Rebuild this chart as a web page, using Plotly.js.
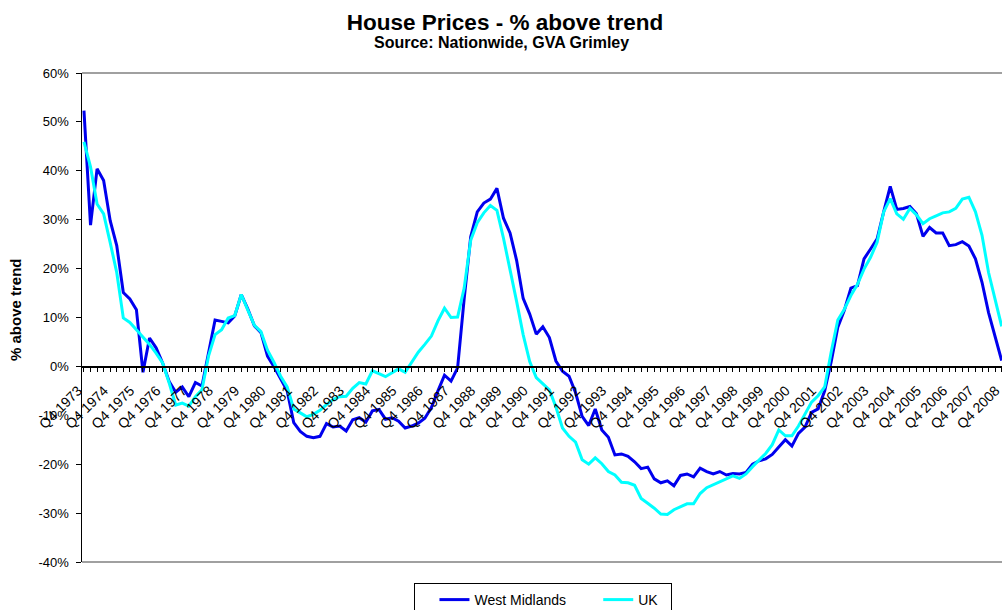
<!DOCTYPE html>
<html>
<head>
<meta charset="utf-8">
<script src="https://cdn.plot.ly/plotly-3.0.1.min.js"></script>
<style>
  body { margin: 0; background: #fff; }
  #chart { width: 1002px; height: 610px; }
</style>
</head>
<body>
<div id="chart"></div>
<script>
// quarterly series, Q4 1973 .. Q4 2008
const firstYear = 1973;
const lastYear = 2008;

const westMidlands = [
  52.3, 28.9, 40.4, 38.0, 29.8, 24.7, 15.1, 13.8, 11.6, -1.2,
  5.8, 3.8, 0.7, -3.1, -5.3, -4.2, -6.2, -3.3, -4.0, 2.7,
  9.5, 9.2, 8.9, 10.3, 14.7, 11.7, 8.3, 6.9, 2.1, -0.1,
  -2.7, -5.0, -11.5, -13.3, -14.3, -14.6, -14.3, -11.7, -12.4, -12.2,
  -13.2, -10.9, -10.5, -11.4, -9.1, -8.8, -10.8, -10.5, -11.2, -12.6,
  -12.2, -11.6, -10.6, -8.4, -5.0, -1.8, -3.0, -0.3, 13.8, 26.5,
  31.6, 33.4, 34.2, 36.4, 30.3, 27.3, 21.7, 13.9, 10.7, 6.6,
  8.1, 5.9, 1.1, -1.0, -2.0, -5.4, -10.2, -12.1, -8.7, -13.0,
  -14.5, -18.1, -17.9, -18.4, -19.5, -20.9, -20.6, -23.0, -23.8, -23.4,
  -24.4, -22.3, -22.0, -22.6, -20.8, -21.5, -22.0, -21.5, -22.2, -21.9,
  -22.0, -21.7, -20.0, -19.3, -18.9, -18.0, -16.5, -15.0, -16.3, -13.7,
  -12.4, -9.4, -8.7, -5.0, 1.0, 8.0, 11.5, 16.0, 16.5, 22.0,
  24.0, 26.1, 31.6, 36.8, 32.1, 32.3, 32.7, 31.2, 26.6, 28.4,
  27.3, 27.3, 24.7, 24.9, 25.5, 24.6, 22.0, 17.2, 11.0, 6.0,
  1.2
];

const uk = [
  45.9, 40.8, 33.2, 31.2, 25.3, 19.2, 9.9, 9.0, 7.5, 6.0,
  4.5, 2.7, 0.7, -3.4, -7.9, -7.5, -8.1, -6.2, -4.8, 2.1,
  6.5, 7.5, 9.9, 10.4, 14.7, 11.5, 8.4, 7.1, 3.3, 0.8,
  -2.0, -4.2, -8.7, -9.5, -10.3, -9.8, -9.0, -7.8, -6.8, -6.2,
  -6.1, -4.5, -3.3, -3.6, -0.9, -1.5, -2.1, -1.3, -0.5, -1.2,
  0.8, 2.9, 4.5, 6.2, 9.3, 11.9, 10.0, 10.1, 16.0, 25.8,
  29.4, 31.4, 32.9, 31.9, 26.2, 20.0, 13.3, 6.5, 1.0, -2.3,
  -3.5, -4.8, -8.3, -12.6, -14.3, -15.5, -19.1, -20.0, -18.7, -19.9,
  -21.5, -22.2, -23.7, -23.8, -24.3, -27.0, -28.0, -29.0, -30.2, -30.3,
  -29.3, -28.7, -28.1, -28.1, -26.0, -24.8, -24.2, -23.6, -22.9, -22.4,
  -22.9, -22.0, -20.5, -19.1, -17.8, -16.0, -13.0, -14.2, -14.2, -12.2,
  -9.7, -7.3, -6.0, -4.2, 3.0, 9.5, 11.7, 14.5, 16.8, 19.9,
  22.3, 25.4, 31.6, 34.3, 31.2, 30.1, 32.3, 31.0, 29.2, 30.2,
  30.8, 31.4, 31.6, 32.3, 34.2, 34.6, 31.6, 26.8, 19.2, 13.5,
  8.2
];

const yTickVals = [-40, -30, -20, -10, 0, 10, 20, 30, 40, 50, 60];
const yTickText = ["-40%", "-30%", "-20%", "-10%", "0%", "10%", "20%", "30%", "40%", "50%", "60%"];

// category labels: every quarter gets a tick, only Q4s are labelled
let quarters = ["Q4 " + firstYear];
for (let y = firstYear + 1; y <= lastYear; y++) {
  for (let q = 1; q <= 4; q++) quarters.push("Q" + q + " " + y);
}
const idx = quarters.map((q, i) => i);
const tickText = quarters.map(q => q.startsWith("Q4") ? q : "");

const font = "Liberation Sans, Arial, sans-serif";
const nb = n => "\u00a0".repeat(n); // spacing inside the legend box

const data = [
  {
    x: idx, y: westMidlands, name: "West Midlands" + nb(7), type: "scatter", mode: "lines",
    line: { color: "#0000ee", width: 3 }
  },
  {
    x: idx, y: uk, name: "UK" + nb(2), type: "scatter", mode: "lines",
    line: { color: "#00ffff", width: 3 }
  }
];

const layout = {
  width: 1002,
  height: 610,
  margin: { l: 82, r: 0, t: 73, b: 48, autoexpand: false },
  paper_bgcolor: "#ffffff",
  plot_bgcolor: "#ffffff",
  font: { family: font, size: 13, color: "#000" },
  title: {
    text: "<b>House Prices - % above trend</b>",
    font: { family: font, size: 22.5, color: "#000" },
    x: 0.504, xanchor: "center",
    y: 0.964, yanchor: "middle", yref: "container"
  },
  annotations: [
    {
      text: "<b>Source: Nationwide, GVA Grimley</b>",
      xref: "paper", yref: "paper", x: (501 - 82) / 920, y: (562 - 42) / 489,
      xanchor: "center", yanchor: "middle", showarrow: false,
      font: { family: font, size: 16, color: "#000" }
    },
    {
      text: "<b>% above trend</b>",
      xref: "paper", yref: "paper", x: (15 - 82) / 920, y: (562 - 310) / 489,
      xanchor: "center", yanchor: "middle", textangle: -90, showarrow: false,
      font: { family: font, size: 15, color: "#000" }
    }
  ],
  xaxis: {
    range: [-0.3, 140.05],
    tickmode: "array",
    tickvals: idx,
    ticktext: tickText,
    tickangle: -45,
    ticks: "outside",
    ticklen: 4,
    tickcolor: "#000",
    tickfont: { family: font, size: 14, color: "#000" },
    ticklabelstandoff: 5,
    ticklabelshift: -6,
    ticklabeloverflow: "allow",
    showgrid: false,
    zeroline: false,
    showline: true,
    linecolor: "#000",
    linewidth: 1.5,
    anchor: "free",
    position: 0.4,
    automargin: false,
    fixedrange: true
  },
  yaxis: {
    range: [-40, 60],
    tickmode: "array",
    tickvals: yTickVals,
    ticktext: yTickText,
    ticks: "outside",
    ticklen: 5,
    tickcolor: "#000",
    tickfont: { family: font, size: 13, color: "#000" },
    ticklabelstandoff: 4,
    showgrid: false,
    zeroline: false,
    showline: true,
    linecolor: "#000",
    linewidth: 1.5,
    automargin: false,
    fixedrange: true
  },
  shapes: [
    { type: "line", xref: "paper", yref: "paper", x0: 0, x1: 1, y0: 1, y1: 1,
      line: { color: "#808080", width: 1.5 } },
    { type: "line", xref: "paper", yref: "paper", x0: 0, x1: 1, y0: 0, y1: 0,
      line: { color: "#808080", width: 1.5 } }
  ],
  showlegend: true,
  legend: {
    orientation: "h",
    title: { text: nb(2), side: "left" },
    x: 543 / 1002, xanchor: "center", xref: "container",
    y: 1 - 583 / 610, yanchor: "top", yref: "container",
    bordercolor: "#000",
    borderwidth: 1,
    bgcolor: "#fff",
    font: { family: font, size: 14, color: "#000" }
  }
};

Plotly.newPlot("chart", data, layout, { displayModeBar: false, staticPlot: true });
</script>
</body>
</html>
